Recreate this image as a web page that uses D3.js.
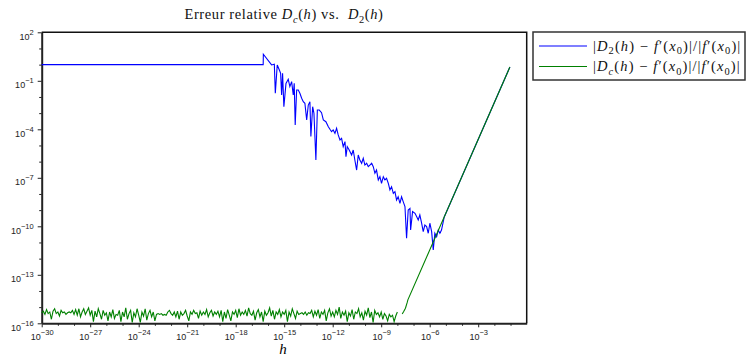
<!DOCTYPE html>
<html>
<head>
<meta charset="utf-8">
<script src="https://cdn.jsdelivr.net/npm/d3@7/dist/d3.min.js"></script>
<style>
  body { margin: 0; background: #fff; }
</style>
</head>
<body>
<svg id="chart" width="747" height="361"></svg>
<script>
// tick exponents (log10)
const hMajor = [-30, -27, -24, -21, -18, -15, -12, -9, -6, -3];
const errMajor = [2, -1, -4, -7, -10, -13, -16];

// blue: |D2(h) - f'(x0)| / |f'(x0)|, pairs [log10 h, log10 err]
const blueSeries = [
  [-30, 0], [-16.3, 0], [-16.29, 0.64], [-15.78, -0.02], [-15.61, 0.02], [-15.55, -1.77],
  [-15.43, -0.02], [-15.30, -0.33], [-15.22, -0.54], [-15.16, -1.88], [-15.10, -0.54],
  [-15.02, -2.60], [-14.89, -1.16], [-14.75, -0.91], [-14.65, -1.36], [-14.54, -1.05],
  [-14.44, -1.88], [-14.38, -1.16], [-14.32, -3.73], [-14.23, -1.57], [-14.13, -1.57],
  [-14.03, -1.77], [-13.92, -2.08], [-13.82, -2.29], [-13.72, -2.39], [-13.61, -3.42],
  [-13.51, -2.50], [-13.41, -2.29], [-13.35, -4.45], [-13.24, -2.60], [-13.16, -3.01],
  [-13.04, -5.90], [-12.95, -2.81], [-12.83, -2.81], [-12.69, -2.97], [-12.58, -3.42],
  [-12.42, -3.53], [-12.27, -3.84], [-12.17, -4.00], [-12.07, -4.15], [-11.97, -4.04],
  [-11.86, -4.25], [-11.76, -3.94], [-11.66, -4.35], [-11.55, -4.66], [-11.45, -4.56],
  [-11.35, -5.07], [-11.24, -4.76], [-11.18, -5.69], [-11.10, -5.07], [-10.98, -5.28],
  [-10.83, -5.59], [-10.73, -5.28], [-10.63, -5.90], [-10.52, -6.52], [-10.42, -5.59],
  [-10.32, -5.90], [-10.21, -6.10], [-10.11, -5.79], [-10.01, -6.21], [-9.90, -6.10],
  [-9.80, -6.31], [-9.70, -6.21], [-9.59, -6.10], [-9.49, -6.31], [-9.39, -6.72],
  [-9.29, -6.52], [-9.18, -7.13], [-9.08, -6.93], [-8.98, -7.34], [-8.87, -6.93],
  [-8.77, -7.13], [-8.67, -7.03], [-8.56, -7.34], [-8.46, -7.75], [-8.36, -7.55],
  [-8.25, -7.96], [-8.15, -7.86], [-8.05, -8.37], [-7.95, -8.17], [-7.84, -8.58],
  [-7.74, -8.17], [-7.64, -8.47], [-7.53, -8.78], [-7.43, -10.74], [-7.33, -8.99],
  [-7.22, -8.89], [-7.18, -10.23], [-7.06, -9.09], [-6.91, -9.20], [-6.81, -9.40],
  [-6.71, -9.61], [-6.61, -9.30], [-6.50, -9.81], [-6.40, -10.33], [-6.30, -9.92],
  [-6.19, -10.02], [-6.09, -10.43], [-5.99, -9.81], [-5.88, -10.33], [-5.78, -11.46],
  [-5.68, -10.43], [-5.57, -10.64], [-5.47, -10.23], [-5.37, -10.43], [-5.27, -10.23],
  [-5.1, -9.42], [-1.04, -0.15]
];

// green: |Dc(h) - f'(x0)| / |f'(x0)|, log10 err on the h grid 1e-30 .. 1e-8 (step 0.1 decade)
const greenNoise = [
  -15.35, -15.25, -15.45, -15.15, -15.4, -15.3, -15.75, -15.25, -15.1, -15.4,
  -15.3, -15.55, -15.2, -15.35, -15.3, -15.45, -15.35, -15.3, -15.35, -15.2,
  -15.45, -15.15, -15.5, -15.1, -15.6, -15.3, -15.1, -15.45, -15.25, -15.05,
  -15.5, -15.2, -15.9, -15.25, -15.6, -15.1, -15.4, -15.75, -15.2, -15.5,
  -15.35, -15.85, -15.3, -15.6, -15.15, -15.7, -15.45, -15.5, -15.2, -15.9,
  -15.3, -15.6, -15.05, -15.75, -15.4, -15.2, -15.95, -15.35, -15.6, -15.1,
  -15.5, -15.95, -15.3, -15.55, -15.1, -15.8, -15.4, -15.2, -15.6, -15.3,
  -15.85, -15.45, -15.4, -15.45, -15.4, -15.5, -15.45, -15.5, -15.3, -15.2,
  -15.4, -15.5, -15.3, -15.6, -15.25, -15.75, -15.3, -15.5, -15.4, -15.2,
  -15.55, -15.85, -15.3, -15.45, -15.2, -15.4, -15.35, -15.7, -15.25, -15.5,
  -15.3, -15.45, -15.15, -15.6, -15.35, -15.2, -15.55, -15.3, -15.45, -15.25,
  -15.6, -15.2, -15.9, -15.3, -15.7, -15.15, -15.5, -15.85, -15.3, -15.45,
  -15.2, -15.65, -15.1, -15.5, -15.3, -15.45, -15.2, -15.55, -15.05, -15.4,
  -15.5, -15.25, -15.8, -15.35, -15.15, -15.6, -15.3, -15.9, -15.25, -15.5,
  -15.35, -15.05, -15.55, -15.2, -15.75, -15.3, -15.45, -15.15, -15.6, -15.3,
  -15.45, -15.2, -15.9, -15.3, -15.55, -15.1, -15.4, -15.7, -15.25, -15.45,
  -15.4, -15.35, -15.45, -15.3, -15.5, -15.35, -15.4, -15.2, -15.6, -15.25,
  -15.5, -15.15, -15.7, -15.3, -15.45, -15.2, -15.85, -15.35, -15.1, -15.55,
  -15.3, -15.6, -15.2, -15.45, -15.0, -15.7, -15.3, -15.5, -15.25, -15.9,
  -15.35, -15.55, -15.15, -15.75, -15.3, -15.4, -15.1, -15.6, -15.35, -15.8,
  -15.25, -15.5, -15.05, -15.65, -15.3, -15.95, -15.2, -15.45, -15.35, -15.6,
  -15.3, -15.75, -15.4, -15.55, -15.85, -15.45, -15.6, -15.5, -15.9, -15.55,
  -15.3
];
const noiseH = d3.range(greenNoise.length).map(i => -30 + i / 10);
// green after the gap (err = 0 at 1e-7.9, 1e-7.8)
const greenTail = [
  [-7.7, -15.42], [-7.6, -15.25], [-7.5, -15.07], [-7.4, -14.74], [-7.35, -14.55], [-1.04, -0.15]
];

const seriesColors = { blue: '#0000ff', green: '#008000' };

const svg = d3.select('#chart');
const x = d3.scaleLog().domain([1e-30, 1]).range([41.7, 526.7]);
const y = d3.scaleLog().domain([1e-16, 1e2]).range([323.3, 32.3]);
const serif = '"Liberation Serif", "Times New Roman", serif';
const sans = '"Liberation Sans", Arial, sans-serif';

// minor ticks every decade
const xMinor = d3.range(-29, 0).filter(e => e % 3 !== 0).map(e => 10 ** e);
const yMinor = d3.range(-15, 2).filter(e => (e + 16) % 3 !== 0).map(e => 10 ** e);

svg.append('g').attr('transform', 'translate(0,323.3)')
  .call(d3.axisBottom(x).tickValues(xMinor).tickSize(2.5).tickSizeOuter(0).tickFormat(''))
  .call(g => g.select('.domain').remove());
svg.append('g').attr('transform', 'translate(41.7,0)')
  .call(d3.axisLeft(y).tickValues(yMinor).tickSize(2.5).tickSizeOuter(0).tickFormat(''))
  .call(g => g.select('.domain').remove());

function powLabel(sel, exp, anchor) {
  sel.text(null).attr('text-anchor', anchor);
  sel.append('tspan').text('10');
  sel.append('tspan').attr('dy', -5).attr('font-size', 7.5).text(String(exp).replace('-', '\u2212'));
}

const xAxis = svg.append('g').attr('transform', 'translate(0,323.3)')
  .call(d3.axisBottom(x).tickValues(hMajor.map(e => 10 ** e)).tickSize(4).tickSizeOuter(0).tickPadding(6));
xAxis.selectAll('.tick text').each(function(d) {
  powLabel(d3.select(this), Math.round(Math.log10(d)), 'middle');
});

const yAxis = svg.append('g').attr('transform', 'translate(41.7,0)')
  .call(d3.axisLeft(y).tickValues(errMajor.map(e => 10 ** e)).tickSize(4).tickSizeOuter(0).tickPadding(4));
yAxis.selectAll('.tick text').each(function(d) {
  powLabel(d3.select(this), Math.round(Math.log10(d)), 'end');
  d3.select(this).attr('dy', '0.75em');
});

svg.selectAll('.tick text').attr('font-family', sans).attr('font-size', 9).attr('fill', '#222');
svg.selectAll('.tick line').attr('stroke', '#222');
svg.selectAll('.domain').attr('stroke', '#222').attr('stroke-width', 2);

// frame top/right
svg.append('path')
  .attr('d', `M41.7,32.3H526.7V323.3`)
  .attr('fill', 'none').attr('stroke', '#111').attr('stroke-width', 1.5);

const line = d3.line().x(d => x(10 ** d[0])).y(d => y(10 ** d[1]));

svg.append('path').datum(blueSeries)
  .attr('d', line).attr('fill', 'none').attr('stroke', seriesColors.blue).attr('stroke-width', 1.1);
svg.append('path').datum(noiseH.map((h, i) => [h, greenNoise[i]]))
  .attr('d', line).attr('fill', 'none').attr('stroke', seriesColors.green).attr('stroke-width', 1.1);
svg.append('path').datum(greenTail)
  .attr('d', line).attr('fill', 'none').attr('stroke', seriesColors.green).attr('stroke-width', 1.1);

// math-ish text helper: parts [text, flags], flags: i = italic, s = subscript
function mathText(parent, parts, px, py, size, anchor, spacing) {
  const t = parent.append('text').attr('x', px).attr('y', py)
    .attr('font-family', serif).attr('font-size', size)
    .attr('letter-spacing', spacing || 0)
    .attr('text-anchor', anchor || 'start').style('white-space', 'pre').attr('fill', '#111');
  let shift = 0;
  parts.forEach(([s, f]) => {
    const ts = t.append('tspan').text(s);
    const sub = f.includes('s');
    const want = sub ? size * 0.25 : 0;
    if (want !== shift) { ts.attr('dy', want - shift); shift = want; }
    if (sub) ts.attr('font-size', size * 0.72);
    if (f.includes('i')) ts.attr('font-style', 'italic');
  });
  return t;
}

mathText(svg, [['Erreur relative ', ''], ['D', 'i'], ['c', 'si'], ['(', ''], ['h', 'i'], [')', ''],
  [' vs.  ', ''], ['D', 'i'], ['2', 's'], ['(', ''], ['h', 'i'], [')', '']], 284, 19, 14.5, 'middle', 0.6);

svg.append('text').attr('x', 283).attr('y', 354).attr('text-anchor', 'middle')
  .attr('font-family', serif).attr('font-style', 'italic').attr('font-size', 15).text('h');

// legend
const legendLabels = [
  { color: seriesColors.blue, sub: ['2', 's'] },
  { color: seriesColors.green, sub: ['c', 'si'] }
];
svg.append('rect').attr('x', 533).attr('y', 32).attr('width', 212).attr('height', 48)
  .attr('fill', '#fff').attr('stroke', '#333').attr('stroke-width', 1.5);
legendLabels.forEach((d, i) => {
  const ly = 46 + i * 20.5;
  svg.append('line').attr('x1', 539).attr('x2', 587).attr('y1', ly).attr('y2', ly)
    .attr('stroke', d.color).attr('stroke-width', 1.1);
  mathText(svg, [['|', ''], ['D', 'i'], d.sub, ['(', ''], ['h', 'i'], [') \u2212 ', ''], ['f', 'i'], ['\u2032(', ''],
    ['x', 'i'], ['0', 's'], [')|/|', ''], ['f', 'i'], ['\u2032(', ''], ['x', 'i'], ['0', 's'], [')|', '']],
    593, ly + 4.5, 14.5, 'start', 1.1);
});
</script>
</body>
</html>
